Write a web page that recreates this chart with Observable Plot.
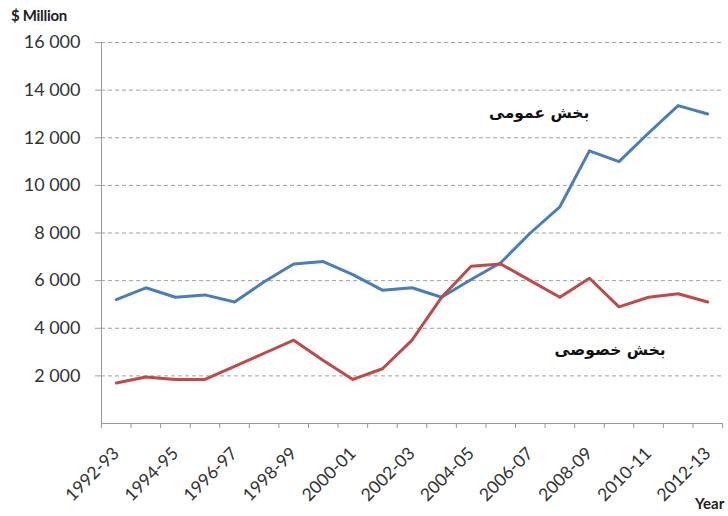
<!DOCTYPE html>
<html>
<head>
<meta charset="utf-8">
<script src="https://cdn.jsdelivr.net/npm/d3@7"></script>
<script src="https://cdn.jsdelivr.net/npm/@observablehq/plot@0.6"></script>
<style>
  html, body { margin: 0; padding: 0; background: #fff; }
  #wrap { position: relative; width: 728px; height: 516px; font-family: Lato, "Open Sans", sans-serif; }
  #unit { position: absolute; left: 11px; top: 6px; font: bold 15px Lato, sans-serif; color: #222; letter-spacing: -0.3px; }
  #xname { position: absolute; left: 695px; top: 494px; font: bold 15px Lato, sans-serif; color: #222; }
</style>
</head>
<body>
<div id="wrap">
  <div id="chart"></div>
  <div id="unit">$ Million</div>
  <div id="xname">Year</div>
</div>
<script>
const years = ["1992-93","1993-94","1994-95","1995-96","1996-97","1997-98","1998-99","1999-00","2000-01","2001-02","2002-03","2003-04","2004-05","2005-06","2006-07","2007-08","2008-09","2009-10","2010-11","2011-12","2012-13"];
const publicSector  = [5200,5700,5300,5400,5100,5950,6700,6800,6250,5600,5700,5300,6050,6750,8000,9100,11450,11000,12200,13350,13000];
const privateSector = [1700,1950,1850,1850,2400,2950,3500,2650,1850,2300,3500,5300,6600,6700,6000,5300,6100,4900,5300,5450,5100];
const yTicks = [2000,4000,6000,8000,10000,12000,14000,16000];
const xLabelYears = years.filter((d, i) => i % 2 === 0);
const seriesLabels = [
  {text: "بخش عمومی", x: 14.3, y: 13050},
  {text: "بخش خصوصی", x: 16.7, y: 3100}
];

const rows = [];
years.forEach((y, i) => {
  rows.push({i, year: y, value: publicSector[i], series: "public"});
  rows.push({i, year: y, value: privateSector[i], series: "private"});
});
const boundaries = d3.range(years.length + 1).map(i => i - 0.5);
const fmt = v => d3.format(",")(v).replace(/,/g, " ");

const chart = Plot.plot({
  width: 728,
  height: 516,
  marginLeft: 101,
  marginTop: 42,
  marginBottom: 93,
  marginRight: 6,
  style: {fontFamily: "Lato, 'Open Sans', sans-serif", background: "#fff"},
  x: {type: "linear", domain: [-0.5, years.length - 0.5]},
  y: {domain: [0, 16000]},
  color: {domain: ["public", "private"], range: ["#4a7ebb", "#be4b48"]},
  marks: [
    Plot.gridY(yTicks, {stroke: "#a0a0a0", strokeOpacity: 1, strokeDasharray: "4,3"}),
    Plot.axisY(yTicks, {tickSize: 6, tickPadding: 15, tickFormat: fmt, fontSize: 18, fill: "#333", stroke: "#a0a0a0", label: null}),
    Plot.ruleX([-0.5], {stroke: "#999"}),
    Plot.ruleY([0], {stroke: "#999"}),
    Plot.axisX(boundaries, {tickSize: 5, tickFormat: () => "", stroke: "#999", label: null}),
    Plot.axisX(xLabelYears.map(y => years.indexOf(y)), {tickSize: 0, tickPadding: 27, tickRotate: -45, tickFormat: i => years[i], fontSize: 17.5, fill: "#333", label: null}),
    Plot.line(rows, {x: "i", y: "value", z: "series", stroke: "series", strokeWidth: 3}),
    Plot.text(seriesLabels, {x: "x", y: "y", text: "text", fontSize: 15.5, fontWeight: "bold", fill: "#111", fontFamily: "'DejaVu Sans', sans-serif"})
  ]
});
document.getElementById("chart").appendChild(chart);
</script>
</body>
</html>
